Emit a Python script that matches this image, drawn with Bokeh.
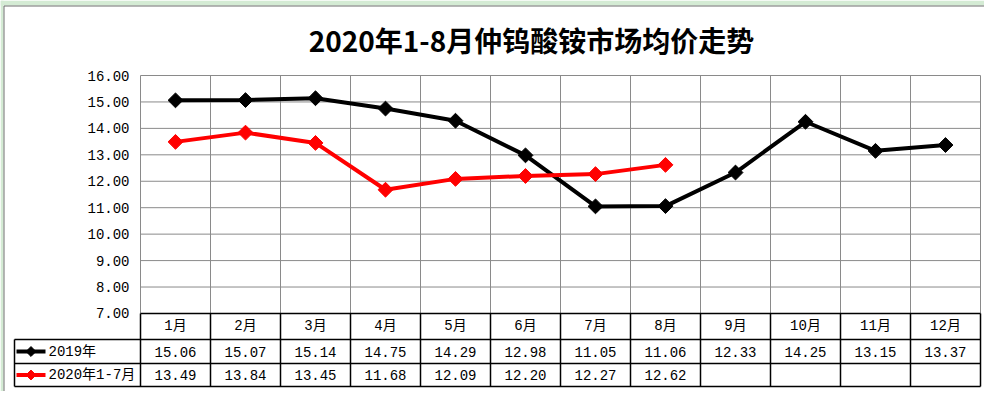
import numpy as np
from bokeh.plotting import figure
from bokeh.models import Range1d, ColumnDataSource
from bokeh.core.properties import value
from bokeh.embed import file_html
from bokeh.resources import INLINE

# ---------------- data ----------------
months = ["1月", "2月", "3月", "4月", "5月", "6月", "7月", "8月", "9月", "10月", "11月", "12月"]
y2019 = [15.06, 15.07, 15.14, 14.75, 14.29, 12.98, 11.05, 11.06, 12.33, 14.25, 13.15, 13.37]
y2020 = [13.49, 13.84, 13.45, 11.68, 12.09, 12.20, 12.27, 12.62]
series_names = ["2019年", "2020年1-7月"]
title_text = "2020年1-8月仲钨酸铵市场均价走势"
y_ticks = [7, 8, 9, 10, 11, 12, 13, 14, 15, 16]

# ---------------- layout ----------------
W, H = 984, 391
ORIGIN_X, ORIGIN_Y = 0, 0   # page position of the figure's top-left
X_PX = 70.0      # px per category
Y_PX = 26.44     # px per unit
PLOT_LEFT = 140  # page px of plot left edge
PLOT_TOP = 75    # page px of value 16


def px_x(page_x):
    return -0.5 + (page_x - PLOT_LEFT) / X_PX


def px_y(page_y):
    return 16 - (page_y - PLOT_TOP) / Y_PX


p = figure(width=W, height=H, output_backend="svg", toolbar_location=None,
           x_range=Range1d(px_x(ORIGIN_X), px_x(ORIGIN_X + W)),
           y_range=Range1d(px_y(ORIGIN_Y + H), px_y(ORIGIN_Y)),
           min_border=0, min_border_left=0, min_border_right=0,
           min_border_top=0, min_border_bottom=0)
p.axis.visible = False
p.grid.visible = False
p.outline_line_color = None
p.background_fill_color = "white"
p.border_fill_color = "white"

# spreadsheet frame around the chart (green sheet background and chart border)
sheet_green = "#d4ebd4"
p.quad(left=[px_x(0)], right=[px_x(W)], top=[px_y(0)], bottom=[px_y(5)],
       fill_color=sheet_green, line_color=None)
p.quad(left=[px_x(0)], right=[px_x(3)], top=[px_y(0)], bottom=[px_y(H)],
       fill_color=sheet_green, line_color=None)
p.segment(x0=[px_x(3.5), px_x(3.5)], y0=[px_y(5.5), px_y(5.5)],
          x1=[px_x(W), px_x(3.5)], y1=[px_y(5.5), px_y(H)],
          line_color="#6e6e6e", line_width=1)

n = len(months)
idx = list(range(n))
xl, xr = -0.5, n - 0.5
ymin, ymax = y_ticks[0], y_ticks[-1]

grid_c = "#8a8a8a"
# horizontal grid lines
hy = [t for t in y_ticks if t != ymin]
p.segment(x0=[xl] * len(hy), y0=hy, x1=[xr] * len(hy), y1=hy, line_color=grid_c, line_width=1)
# vertical grid lines
vx = [i - 0.5 for i in range(n + 1)]
p.segment(x0=vx, y0=[ymin] * len(vx), x1=vx, y1=[ymax] * len(vx), line_color=grid_c, line_width=1)

# y tick labels
num_font = value("Liberation Mono, Noto Sans CJK SC")
p.text(x=[px_x(129)] * len(y_ticks), y=y_ticks, text=[f"{t:.2f}" for t in y_ticks],
       text_font=num_font, text_font_size="14px", text_align="right",
       text_baseline="middle", text_color="#000000")

# table geometry
r0 = ymin
r1 = px_y(339)
r2 = px_y(363)
r3 = px_y(386)
tl = px_x(14)
tc = "#000000"
tw = 1.5
# horizontal table lines
p.segment(x0=[xl, tl, tl, tl], y0=[r0, r1, r2, r3], x1=[xr] * 4, y1=[r0, r1, r2, r3],
          line_color=tc, line_width=tw)
# vertical table lines
p.segment(x0=vx, y0=[r3] * len(vx), x1=vx, y1=[r0] * len(vx), line_color=tc, line_width=tw)
p.segment(x0=[tl], y0=[r3], x1=[tl], y1=[r1], line_color=tc, line_width=tw)

# header row
p.text(x=idx, y=[(r0 + r1) / 2] * n, text=months, text_font=num_font, text_font_size="14px",
       text_align="center", text_baseline="middle", text_color="#000000")
# values rows
p.text(x=idx, y=[(r1 + r2) / 2] * n, text=[f"{v:.2f}" for v in y2019], text_font=num_font,
       text_font_size="14px", text_align="center", text_baseline="middle", text_color="#000000")
p.text(x=idx[:len(y2020)], y=[(r2 + r3) / 2] * len(y2020), text=[f"{v:.2f}" for v in y2020],
       text_font=num_font, text_font_size="14px", text_align="center", text_baseline="middle",
       text_color="#000000")

# legend keys in the table
colors = ["#000000", "#ff0000"]
for name, c, ymid in zip(series_names, colors, [(r1 + r2) / 2, (r2 + r3) / 2]):
    p.segment(x0=[px_x(16)], y0=[ymid], x1=[px_x(45)], y1=[ymid], line_color=c, line_width=4)
    p.scatter(x=[px_x(30.5)], y=[ymid], marker="square", angle=np.pi / 4, size=7,
              fill_color=c, line_color=c)
    p.text(x=[px_x(48)], y=[ymid], text=[name], text_font=num_font, text_font_size="14px",
           text_align="left", text_baseline="middle", text_color="#000000")

# series
src19 = ColumnDataSource(dict(x=idx, y=y2019))
src20 = ColumnDataSource(dict(x=idx[:len(y2020)], y=y2020))
for src, c in [(src19, colors[0]), (src20, colors[1])]:
    p.line(x="x", y="y", source=src, line_color=c, line_width=4, line_join="round")
    p.scatter(x="x", y="y", source=src, marker="square", angle=np.pi / 4, size=10.5,
              fill_color=c, line_color=c, line_width=1)

# title
p.text(x=[px_x(531)], y=[px_y(39)], text=[title_text],
       text_font=value("Noto Sans CJK SC"), text_font_size="28px", text_font_style="bold",
       text_align="center", text_baseline="middle", text_color="#000000")

open("out.html", "w").write(file_html(p, INLINE))
